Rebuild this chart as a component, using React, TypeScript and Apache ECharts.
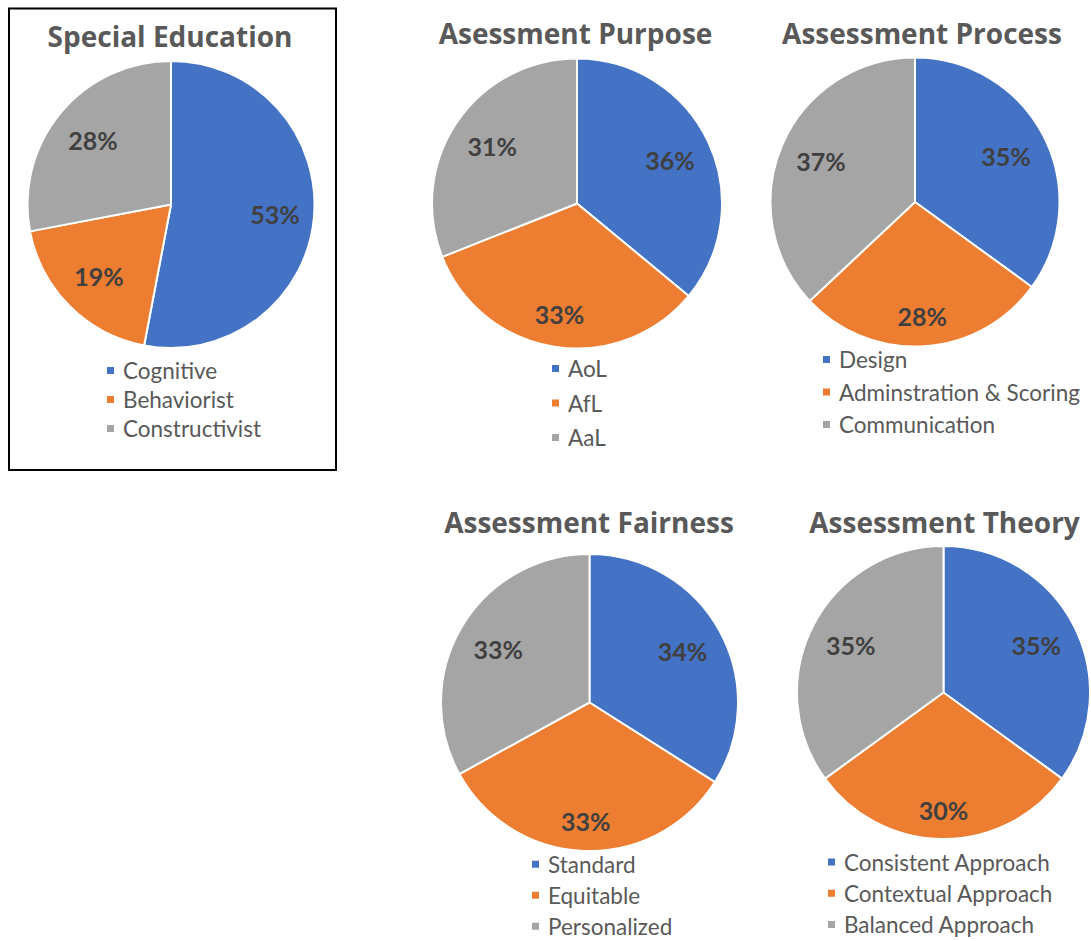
import React, { useEffect, useRef } from "react";
import * as echarts from "echarts";

// ---- data ----
const titles = [
  "Special Education",
  "Asessment Purpose",
  "Assessment Process",
  "Assessment Fairness",
  "Assessment Theory",
];
const specialEdCategories = ["Cognitive", "Behaviorist", "Constructivist"];
const specialEdValues = [53, 19, 28];
const purposeCategories = ["AoL", "AfL", "AaL"];
const purposeValues = [36, 33, 31];
const processCategories = ["Design", "Adminstration & Scoring", "Communication"];
const processValues = [35, 28, 37];
const fairnessCategories = ["Standard", "Equitable", "Personalized"];
const fairnessValues = [34, 33, 33];
const theoryCategories = ["Consistent Approach", "Contextual Approach", "Balanced Approach"];
const theoryValues = [35, 30, 35];

const allCategories = [
  specialEdCategories,
  purposeCategories,
  processCategories,
  fairnessCategories,
  theoryCategories,
];
const allValues = [specialEdValues, purposeValues, processValues, fairnessValues, theoryValues];

// ---- layout / style ----
const COLORS = ["#4472C4", "#ED7D31", "#A5A5A5"];
const FONT = "Lato";
const TITLE_FONT = "Open Sans";
const layout = [
  { cx: 171, cy: 204.5, r: 143.5, tx: 170, ty: 36, lx: 105, ly: 370.5, step: 29 },
  { cx: 577, cy: 203.5, r: 145, tx: 575.5, ty: 33, lx: 550, ly: 368.5, step: 34.5 },
  { cx: 915, cy: 202, r: 144.5, tx: 922, ty: 33, lx: 821, ly: 359.5, step: 32.5 },
  { cx: 589.5, cy: 702.5, r: 148.5, tx: 589, ty: 522, lx: 530, ly: 864.2, step: 31 },
  { cx: 943.5, cy: 692.5, r: 146.5, tx: 944.5, ty: 522, lx: 826, ly: 862, step: 31.25 },
];

function makeLabelLayout(idx: number) {
  return (params: any) => {
    const L = layout[idx];
    const vals = allValues[idx];
    const total = vals.reduce((a, b) => a + b, 0);
    let cum = 0;
    for (let k = 0; k < params.dataIndex; k++) cum += vals[k];
    const mid = ((cum + vals[params.dataIndex] / 2) / total) * Math.PI * 2;
    const s = Math.sin(mid);
    const c = Math.cos(mid);
    const halfW = (params.labelRect?.width || 48) / 2;
    const halfH = 16;
    const dist = L.r - 13 - (halfW * Math.abs(s) + halfH * Math.abs(c));
    return {
      x: L.cx + dist * s,
      y: L.cy - dist * c,
      align: "center",
      verticalAlign: "middle",
    };
  };
}

export default function App() {
  const ref = useRef<HTMLDivElement>(null);
  useEffect(() => {
    if (!ref.current) return;
    const chart = echarts.init(ref.current, undefined, { renderer: "svg" });
    const option: any = {
      animation: false,
      backgroundColor: "#ffffff",
      title: titles.map((t, i) => ({
        text: t,
        left: layout[i].tx,
        top: layout[i].ty - 16,
        textAlign: "center",
        padding: 0,
        textStyle: {
          fontFamily: TITLE_FONT,
          fontWeight: "bold",
          fontSize: 28,
          lineHeight: 32,
          color: "#595959",
        },
      })),
      legend: allCategories.map((cats, i) => ({
        orient: "vertical",
        left: layout[i].lx,
        top: layout[i].ly - 12,
        itemWidth: 9,
        itemHeight: 9,
        itemGap: layout[i].step - 24,
        icon: "rect",
        padding: 0,
        selectedMode: false,
        data: cats,
        textStyle: {
          fontFamily: FONT,
          fontSize: 22.5,
          lineHeight: 24,
          color: "#595959",
          padding: [0, 0, 0, 3],
        },
      })),
      graphic: [
        {
          type: "rect",
          shape: { x: 9, y: 8.5, width: 327, height: 461.5 },
          style: { fill: "none", stroke: "#000000", lineWidth: 2 },
          silent: true,
        },
      ],
      series: allCategories.map((cats, i) => ({
        type: "pie",
        center: [layout[i].cx, layout[i].cy],
        radius: layout[i].r,
        startAngle: 90,
        clockwise: true,
        avoidLabelOverlap: false,
        data: cats.map((n, j) => ({
          name: n,
          value: allValues[i][j],
          itemStyle: { color: COLORS[j] },
        })),
        itemStyle: { borderColor: "#ffffff", borderWidth: 2 },
        label: {
          show: true,
          position: "inside",
          formatter: "{c}%",
          fontFamily: FONT,
          fontSize: 25,
          fontWeight: "bold",
          color: "#404040",
        },
        labelLine: { show: false },
        labelLayout: makeLabelLayout(i),
        emphasis: { disabled: true },
      })),
    };
    chart.setOption(option);
    return () => chart.dispose();
  }, []);
  return (
    <div
      ref={ref}
      style={{ position: "absolute", left: 0, top: 0, width: 1091, height: 941 }}
    />
  );
}
